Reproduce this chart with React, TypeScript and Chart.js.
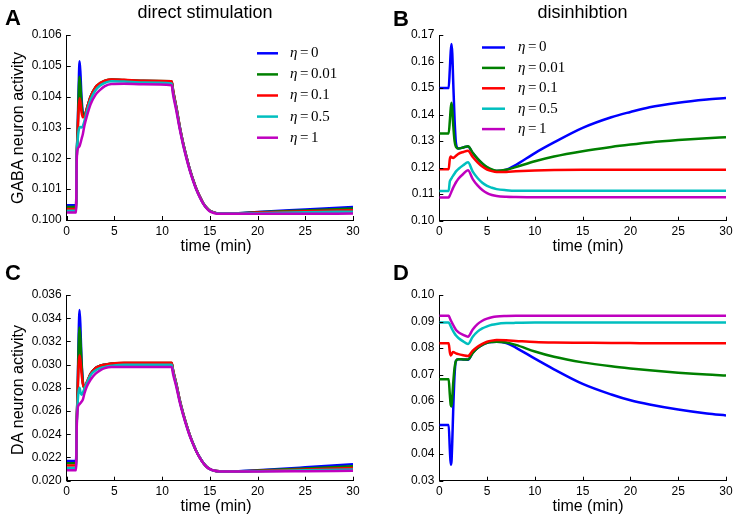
import React, { useEffect, useRef } from 'react';
import { Chart, registerables } from 'chart.js';

Chart.register(...registerables);

// ---------------- data ----------------
const ETAS = ['0', '0.01', '0.1', '0.5', '1'];
const COLORS = ['#0000ff', '#008000', '#ff0000', '#00bfbf', '#bf00bf'];
const X_TICKS = [0, 5, 10, 15, 20, 25, 30];

// time grid (min) for direct stimulation panels
const T_DIRECT = [0, 0.98, 1.05, 1.15, 1.25, 1.35, 1.45, 1.55, 1.7, 1.85, 2.1, 2.5, 3, 3.5, 4, 4.7, 6, 8, 11, 11.15, 11.5, 11.85, 12.2, 12.55, 12.9, 13.25, 13.6, 13.95, 14.3, 14.65, 15, 15.5, 16, 17, 18, 20, 25, 30];
// time grid (min) for disinhibition panels
const T_DISINH = [0, 0.98, 1.1, 1.2, 1.28, 1.36, 1.45, 1.6, 1.75, 2, 2.5, 3, 3.5, 4, 4.5, 5, 5.5, 6, 7, 8, 10, 12, 15, 18, 20, 22, 25, 28, 30];

// Panel A: GABA neuron activity, direct stimulation
const A_BLUE = [0.10048, 0.10048, 0.1020, 0.1030, 0.1043, 0.10515, 0.1047, 0.1040, 0.10345, 0.10335, 0.1036, 0.1040, 0.10428, 0.10442, 0.10450, 0.10455, 0.10453, 0.10451, 0.10448, 0.10418, 0.10363, 0.10301, 0.10249, 0.10205, 0.10164, 0.10130, 0.10100, 0.10076, 0.10055, 0.10040, 0.10030, 0.10024, 0.10021, 0.10021, 0.10022, 0.10026, 0.10034, 0.10042];
const A_GREEN = [0.10042, 0.10042, 0.1020, 0.1029, 0.1040, 0.10465, 0.1043, 0.1038, 0.10340, 0.10335, 0.1036, 0.1040, 0.10430, 0.10444, 0.10452, 0.10456, 0.10454, 0.10452, 0.10450, 0.10420, 0.10364, 0.10302, 0.10250, 0.10205, 0.10164, 0.10130, 0.10100, 0.10076, 0.10055, 0.10040, 0.10030, 0.10024, 0.10021, 0.10021, 0.10022, 0.10025, 0.10031, 0.10037];
const A_RED = [0.10036, 0.10036, 0.1020, 0.1028, 0.1036, 0.10395, 0.1038, 0.1035, 0.10333, 0.10335, 0.1036, 0.1040, 0.10430, 0.10444, 0.10452, 0.10456, 0.10455, 0.10452, 0.10450, 0.10420, 0.10364, 0.10302, 0.10250, 0.10205, 0.10164, 0.10130, 0.10100, 0.10076, 0.10055, 0.10040, 0.10030, 0.10024, 0.10021, 0.10021, 0.10021, 0.10024, 0.10028, 0.10032];
const A_CYAN = [0.10030, 0.10030, 0.1020, 0.1026, 0.1029, 0.1030, 0.10302, 0.10300, 0.10305, 0.1032, 0.1035, 0.1039, 0.10420, 0.10436, 0.10445, 0.10450, 0.10449, 0.10446, 0.10443, 0.10412, 0.10358, 0.10298, 0.10246, 0.10202, 0.10162, 0.10128, 0.10098, 0.10074, 0.10054, 0.10039, 0.10029, 0.10023, 0.10021, 0.10021, 0.10021, 0.10022, 0.10025, 0.10027];
const A_MAGENTA = [0.10024, 0.10024, 0.1019, 0.1023, 0.10236, 0.10240, 0.10250, 0.10262, 0.1028, 0.10305, 0.10335, 0.10375, 0.10405, 0.10422, 0.10434, 0.10441, 0.10442, 0.10440, 0.10437, 0.10406, 0.10352, 0.10294, 0.10243, 0.10199, 0.10160, 0.10126, 0.10097, 0.10073, 0.10053, 0.10038, 0.10028, 0.10022, 0.10020, 0.10020, 0.10020, 0.10020, 0.10020, 0.10021];

// Panel B: GABA neuron activity, disinhibition
const B_BLUE = [0.15, 0.15, 0.157, 0.164, 0.1666, 0.163, 0.153, 0.138, 0.129, 0.1272, 0.1276, 0.1280, 0.1255, 0.1233, 0.1215, 0.1200, 0.1191, 0.1187, 0.1192, 0.1210, 0.1255, 0.1295, 0.1350, 0.1390, 0.1410, 0.1428, 0.1445, 0.1457, 0.1463];
const B_GREEN = [0.1329, 0.1329, 0.1375, 0.1425, 0.1445, 0.1420, 0.1365, 0.1300, 0.1278, 0.1272, 0.1276, 0.1281, 0.1256, 0.1234, 0.1216, 0.1202, 0.1193, 0.1188, 0.1192, 0.1202, 0.1224, 0.1242, 0.1262, 0.1278, 0.1287, 0.1295, 0.1304, 0.1311, 0.1315];
const B_RED = [0.1194, 0.1194, 0.1232, 0.1242, 0.1240, 0.1237, 0.1236, 0.1240, 0.1245, 0.1252, 0.1259, 0.1264, 0.1240, 0.1220, 0.1204, 0.1193, 0.1187, 0.1184, 0.1184, 0.1186, 0.1189, 0.1191, 0.1192, 0.1192, 0.1192, 0.1192, 0.1192, 0.1192, 0.1192];
const B_CYAN = [0.1112, 0.1112, 0.1148, 0.1155, 0.1160, 0.1165, 0.1170, 0.1178, 0.1186, 0.1195, 0.1209, 0.1220, 0.1185, 0.1161, 0.1143, 0.1131, 0.1124, 0.1119, 0.1115, 0.1113, 0.1113, 0.1113, 0.1113, 0.1113, 0.1113, 0.1113, 0.1113, 0.1113, 0.1113];
const B_MAGENTA = [0.1087, 0.1087, 0.1095, 0.1103, 0.1110, 0.1117, 0.1124, 0.1135, 0.1145, 0.1158, 0.1176, 0.1190, 0.1157, 0.1133, 0.1116, 0.1104, 0.1097, 0.1093, 0.1090, 0.1089, 0.1088, 0.1088, 0.1088, 0.1088, 0.1088, 0.1088, 0.1088, 0.1088, 0.1088];

// Panel C: DA neuron activity, direct stimulation
const C_BLUE = [0.0217, 0.0217, 0.0250, 0.0280, 0.0325, 0.0347, 0.0330, 0.0305, 0.0285, 0.0280, 0.0284, 0.0292, 0.0297, 0.0299, 0.0300, 0.03008, 0.03012, 0.03012, 0.03012, 0.02947, 0.02826, 0.02690, 0.02579, 0.02481, 0.02392, 0.02318, 0.02252, 0.02199, 0.02155, 0.02122, 0.02101, 0.02086, 0.02081, 0.0208, 0.02082, 0.0209, 0.02115, 0.02142];
const C_GREEN = [0.0215, 0.0215, 0.0250, 0.0278, 0.0315, 0.0332, 0.0320, 0.0302, 0.0284, 0.0280, 0.0284, 0.0292, 0.0297, 0.0299, 0.0300, 0.0301, 0.03015, 0.03015, 0.03015, 0.0295, 0.02828, 0.02692, 0.0258, 0.02482, 0.02393, 0.02318, 0.02252, 0.02199, 0.02155, 0.02122, 0.02101, 0.02086, 0.02081, 0.0208, 0.02081, 0.02087, 0.02105, 0.02125];
const C_RED = [0.0213, 0.0213, 0.0250, 0.0275, 0.0300, 0.0308, 0.0303, 0.0293, 0.0283, 0.0281, 0.0285, 0.0292, 0.0297, 0.0299, 0.0300, 0.0301, 0.03017, 0.03017, 0.03017, 0.02952, 0.0283, 0.02693, 0.02581, 0.02483, 0.02393, 0.02318, 0.02252, 0.02199, 0.02155, 0.02122, 0.02101, 0.02086, 0.02081, 0.0208, 0.0208, 0.02084, 0.02097, 0.0211];
const C_CYAN = [0.0211, 0.0211, 0.0248, 0.0268, 0.0277, 0.0280, 0.0276, 0.0274, 0.0276, 0.0279, 0.0284, 0.0291, 0.0295, 0.0297, 0.0298, 0.0299, 0.0300, 0.0300, 0.0300, 0.02937, 0.02818, 0.02684, 0.02574, 0.02477, 0.02389, 0.02316, 0.02251, 0.02198, 0.02154, 0.02121, 0.021, 0.02085, 0.0208, 0.0208, 0.0208, 0.02082, 0.0209, 0.02097];
const C_MAGENTA = [0.0209, 0.0209, 0.0245, 0.0262, 0.0265, 0.0266, 0.0267, 0.0268, 0.0270, 0.0275, 0.0281, 0.0287, 0.0292, 0.0295, 0.0297, 0.0298, 0.0298, 0.0298, 0.0298, 0.02918, 0.02804, 0.02674, 0.02567, 0.02471, 0.02385, 0.02313, 0.02249, 0.02196, 0.02153, 0.0212, 0.02099, 0.02085, 0.0208, 0.0208, 0.0208, 0.0208, 0.02082, 0.02085];

// Panel D: DA neuron activity, disinhibition
const D_BLUE = [0.0510, 0.0510, 0.0420, 0.0360, 0.0375, 0.0450, 0.0560, 0.0700, 0.0752, 0.0758, 0.0757, 0.0756, 0.0782, 0.0800, 0.0812, 0.0820, 0.0823, 0.0824, 0.0819, 0.0802, 0.0760, 0.0720, 0.0665, 0.0625, 0.0603, 0.0587, 0.0568, 0.0553, 0.0546];
const D_GREEN = [0.0682, 0.0682, 0.0625, 0.0585, 0.0580, 0.0615, 0.0665, 0.0725, 0.0752, 0.0758, 0.0757, 0.0757, 0.0782, 0.0800, 0.0812, 0.0820, 0.0823, 0.0824, 0.0821, 0.0812, 0.0787, 0.0767, 0.0746, 0.0731, 0.0723, 0.0716, 0.0707, 0.0700, 0.0697];
const D_RED = [0.0818, 0.0818, 0.0785, 0.0772, 0.0776, 0.0782, 0.0785, 0.0783, 0.0780, 0.0777, 0.0773, 0.0770, 0.0790, 0.0805, 0.0816, 0.0824, 0.0828, 0.0830, 0.0829, 0.0827, 0.0823, 0.0821, 0.0820, 0.0819, 0.0819, 0.0818, 0.0818, 0.0818, 0.0818];
const D_CYAN = [0.0896, 0.0896, 0.0890, 0.0882, 0.0876, 0.0870, 0.0864, 0.0855, 0.0847, 0.0838, 0.0825, 0.0815, 0.0843, 0.0862, 0.0874, 0.0882, 0.0888, 0.0891, 0.0894, 0.0895, 0.0896, 0.0896, 0.0896, 0.0896, 0.0896, 0.0896, 0.0896, 0.0896, 0.0896];
const D_MAGENTA = [0.0922, 0.0922, 0.0913, 0.0905, 0.0899, 0.0893, 0.0887, 0.0877, 0.0868, 0.0860, 0.0850, 0.0843, 0.0870, 0.0890, 0.0903, 0.0911, 0.0916, 0.0919, 0.0921, 0.0922, 0.0922, 0.0922, 0.0922, 0.0922, 0.0922, 0.0922, 0.0922, 0.0922, 0.0922];

const A_Y_TICKS = [0.100, 0.101, 0.102, 0.103, 0.104, 0.105, 0.106];
const B_Y_TICKS = [0.10, 0.11, 0.12, 0.13, 0.14, 0.15, 0.16, 0.17];
const C_Y_TICKS = [0.020, 0.022, 0.024, 0.026, 0.028, 0.030, 0.032, 0.034, 0.036];
const D_Y_TICKS = [0.03, 0.04, 0.05, 0.06, 0.07, 0.08, 0.09, 0.10];

// ---------------- layout ----------------
const SANS = "'Liberation Sans', Arial, Helvetica, sans-serif";
const SERIF = "'Liberation Serif', 'DejaVu Serif', serif";

type Panel = {
  left: number; top: number; w: number; h: number;
  area: { left: number; right: number; top: number; bottom: number };
  times: number[];
  series: number[][];
  yTicks: number[];
  dec: number;
  letter: string; letterX: number; letterY: number;
  title?: string; titleX?: number; titleY?: number;
  yTitle?: string; yTitleX?: number; yTitleY?: number;
  xTitleX: number; xTitleY: number;
  legend?: { x0: number; x1: number; tx: number; y0: number; dy: number };
};

const PANELS: Panel[] = [
  {
    left: 0, top: 0, w: 368, h: 260,
    area: { left: 66.7, right: 353, top: 35, bottom: 220 },
    times: T_DIRECT, series: [A_BLUE, A_GREEN, A_RED, A_CYAN, A_MAGENTA],
    yTicks: A_Y_TICKS, dec: 3,
    letter: 'A', letterX: 5, letterY: 25,
    title: 'direct stimulation', titleX: 205, titleY: 18,
    yTitle: 'GABA neuron activity', yTitleX: 19, yTitleY: 128,
    xTitleX: 216, xTitleY: 247,
    legend: { x0: 257, x1: 278, tx: 290, y0: 53.3, dy: 21.1 },
  },
  {
    left: 368, top: 0, w: 369, h: 260,
    area: { left: 71.3, right: 358, top: 35, bottom: 220.7 },
    times: T_DISINH, series: [B_BLUE, B_GREEN, B_RED, B_CYAN, B_MAGENTA],
    yTicks: B_Y_TICKS, dec: 2,
    letter: 'B', letterX: 25, letterY: 26,
    title: 'disinhibtion', titleX: 214.5, titleY: 17.5,
    xTitleX: 220, xTitleY: 247,
    legend: { x0: 114, x1: 137, tx: 150, y0: 47.5, dy: 20.4 },
  },
  {
    left: 0, top: 260, w: 368, h: 261,
    area: { left: 66.7, right: 353, top: 35, bottom: 220.7 },
    times: T_DIRECT, series: [C_BLUE, C_GREEN, C_RED, C_CYAN, C_MAGENTA],
    yTicks: C_Y_TICKS, dec: 3,
    letter: 'C', letterX: 5, letterY: 20,
    yTitle: 'DA neuron activity', yTitleX: 19, yTitleY: 130,
    xTitleX: 216, xTitleY: 247,
  },
  {
    left: 368, top: 260, w: 369, h: 261,
    area: { left: 71.3, right: 358, top: 35, bottom: 220.7 },
    times: T_DISINH, series: [D_BLUE, D_GREEN, D_RED, D_CYAN, D_MAGENTA],
    yTicks: D_Y_TICKS, dec: 2,
    letter: 'D', letterX: 25, letterY: 20,
    xTitleX: 220, xTitleY: 247,
  },
];

function makeDecor(p: Panel) {
  return {
    id: 'decor',
    afterDraw(chart: any) {
      const ctx: CanvasRenderingContext2D = chart.ctx;
      const { left, bottom } = chart.chartArea;
      const xs = chart.scales.x;
      const ys = chart.scales.y;
      ctx.save();
      // inward ticks
      ctx.strokeStyle = '#000';
      ctx.lineWidth = 1;
      ctx.beginPath();
      for (const v of X_TICKS) {
        const px = Math.round(xs.getPixelForValue(v)) + 0.5;
        ctx.moveTo(px, bottom);
        ctx.lineTo(px, bottom - 4);
      }
      for (const v of p.yTicks) {
        const py = Math.round(ys.getPixelForValue(v)) + 0.5;
        ctx.moveTo(left, py);
        ctx.lineTo(left + 4, py);
      }
      ctx.stroke();

      // legend
      if (p.legend) {
        const L = p.legend;
        ETAS.forEach((eta, i) => {
          const y = L.y0 + i * L.dy;
          ctx.strokeStyle = COLORS[i];
          ctx.lineWidth = 2.5;
          ctx.lineCap = 'butt';
          ctx.beginPath();
          ctx.moveTo(L.x0, y);
          ctx.lineTo(L.x1, y);
          ctx.stroke();
          ctx.fillStyle = '#000';
          ctx.textBaseline = 'middle';
          ctx.textAlign = 'left';
          ctx.font = `italic 15px ${SERIF}`;
          let x = L.tx;
          ctx.fillText('η', x, y);
          x += ctx.measureText('η').width + 2.5;
          ctx.font = `15px ${SERIF}`;
          ctx.fillText('=', x, y);
          x += ctx.measureText('=').width + 2.5;
          ctx.fillText(eta, x, y);
        });
      }

      ctx.fillStyle = '#000';
      // panel letter
      ctx.font = `bold 22px ${SANS}`;
      ctx.textAlign = 'left';
      ctx.textBaseline = 'alphabetic';
      ctx.fillText(p.letter, p.letterX, p.letterY);
      // title
      if (p.title) {
        ctx.font = `18px ${SANS}`;
        ctx.textAlign = 'center';
        ctx.fillText(p.title, p.titleX!, p.titleY!);
      }
      // x title
      ctx.font = `16px ${SANS}`;
      ctx.textAlign = 'center';
      ctx.textBaseline = 'middle';
      ctx.fillText('time (min)', p.xTitleX, p.xTitleY);
      // y title
      if (p.yTitle) {
        ctx.translate(p.yTitleX!, p.yTitleY!);
        ctx.rotate(-Math.PI / 2);
        ctx.fillText(p.yTitle, 0, 0);
      }
      ctx.restore();
    },
  };
}

function PanelChart({ p }: { p: Panel }) {
  const ref = useRef<HTMLCanvasElement>(null);
  useEffect(() => {
    const canvas = ref.current!;
    const chart = new Chart(canvas, {
      type: 'line',
      data: {
        datasets: p.series.map((vals, i) => ({
          label: `η=${ETAS[i]}`,
          data: p.times.map((t, k) => ({ x: t, y: vals[k] })),
          borderColor: COLORS[i],
          backgroundColor: COLORS[i],
          borderWidth: 2.5,
          pointRadius: 0,
          fill: false,
          cubicInterpolationMode: 'monotone' as const,
          order: 4 - i,
        })),
      },
      options: {
        responsive: false,
        animation: false,
        events: [],
        layout: { padding: { left: 0, top: p.area.top, right: p.w - p.area.right, bottom: 0 } },
        plugins: {
          legend: { display: false },
          tooltip: { enabled: false },
          title: { display: false },
        },
        scales: {
          x: {
            type: 'linear',
            min: 0,
            max: 30,
            grid: { display: false, drawTicks: false },
            border: { display: true, color: '#000', width: 1 },
            ticks: { padding: 4, color: '#000', font: { family: SANS, size: 12 }, maxRotation: 0 },
            afterBuildTicks: (s: any) => { s.ticks = X_TICKS.map((v) => ({ value: v })); },
            afterFit: (s: any) => { s.height = p.h - p.area.bottom; },
          },
          y: {
            type: 'linear',
            min: p.yTicks[0],
            max: p.yTicks[p.yTicks.length - 1],
            grid: { display: false, drawTicks: false },
            border: { display: true, color: '#000', width: 1 },
            ticks: {
              padding: 5,
              color: '#000',
              font: { family: SANS, size: 12 },
              callback: (v: any) => Number(v).toFixed(p.dec),
            },
            afterBuildTicks: (s: any) => { s.ticks = p.yTicks.map((v) => ({ value: v })); },
            afterFit: (s: any) => { s.width = p.area.left; },
          },
        },
      },
      plugins: [makeDecor(p)],
    } as any);
    return () => chart.destroy();
  }, []);
  return (
    <canvas
      ref={ref}
      width={p.w}
      height={p.h}
      style={{ position: 'absolute', left: p.left, top: p.top, width: p.w, height: p.h }}
    />
  );
}

export default function App() {
  return (
    <div style={{ position: 'fixed', left: 0, top: 0, width: 737, height: 521, background: '#fff' }}>
      {PANELS.map((p, i) => (
        <PanelChart key={i} p={p} />
      ))}
    </div>
  );
}
